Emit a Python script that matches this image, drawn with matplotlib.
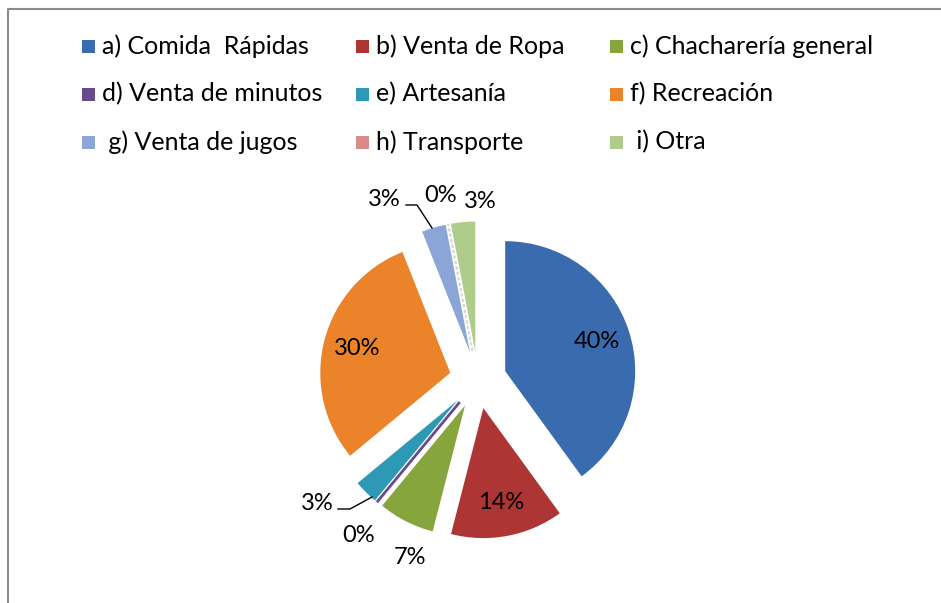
import matplotlib.pyplot as plt
from matplotlib.patches import Rectangle

plt.rcParams['font.family'] = ['Lato', 'DejaVu Sans']

# data
categories = ['a) Comida  Rápidas', 'b) Venta de Ropa', 'c) Chacharería general',
              'd) Venta de minutos', 'e) Artesanía', 'f) Recreación',
              ' g) Venta de jugos', 'h) Transporte', ' i) Otra']
shares = [40, 14, 7, 0, 3, 30, 3, 0, 3]
colors = ['#3A6BAE', '#AD3533', '#86A63D', '#6A4A8C', '#2E99B5',
          '#EB832A', '#8BA6D6', '#D88B89', '#B0CC8A']

W, H = 941, 603
fig = plt.figure(figsize=(W / 100, H / 100), dpi=100)
ax = fig.add_axes([0, 0, 1, 1])

def Y(y):
    # image row -> axis y
    return H - y

R = 130
wedges, texts, autotexts = ax.pie(
    shares, colors=colors, startangle=90, counterclock=False,
    explode=[0.22 * R] * len(shares), radius=R, center=(478, Y(380)),
    autopct=lambda p: f'{p:.0f}%' if p >= 10 else '', pctdistance=0.74,
    wedgeprops=dict(linewidth=0), textprops=dict(fontsize=17, color='black'))

# zero slices show as thin lines
wedges[3].set_edgecolor(colors[3])
wedges[3].set_linewidth(2)
wedges[7].set_edgecolor('#d9d9d9')
wedges[7].set_linewidth(1.5)
wedges[7].set_linestyle(':')

ax.set_xlim(0, W)
ax.set_ylim(0, H)
ax.set_aspect('auto')
ax.axis('off')

# labels of the small slices, placed outside
small = {3: (359, 535), 4: (317, 503), 2: (410, 557),
         6: (384, 200), 7: (441, 196), 8: (480, 201)}
for i, (x, y) in small.items():
    ax.text(x, Y(y), f'{shares[i]}%', fontsize=17, ha='center', va='center')

ax.plot([372, 350, 338], [Y(497), Y(509), Y(509)], color='black', lw=1)
ax.plot([432, 417, 406], [Y(228), Y(205), Y(205)], color='black', lw=1)

# legend, row-wise in three columns
col_x = [82, 356, 610]
row_y = [46, 94, 142]
for k, (name, c) in enumerate(zip(categories, colors)):
    x = col_x[k % 3]
    y = row_y[k // 3]
    ax.add_patch(Rectangle((x, Y(y) - 6.5), 13, 13, color=c, lw=0))
    ax.text(x + 20, Y(y), name, fontsize=18, va='center', ha='left')

# frame of the chart area
ax.plot([8.5, 8.5, W], [0, Y(9), Y(9)], color='#8c8c8c', lw=1.5)

fig.savefig('out.png', dpi=100)
